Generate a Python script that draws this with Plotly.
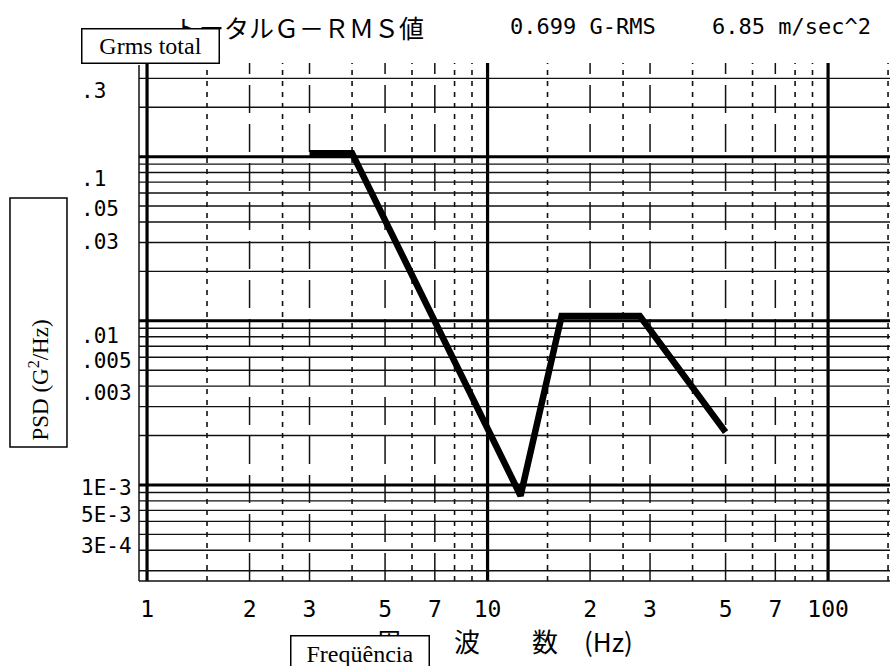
import math
import plotly.graph_objects as go

# ---- data ----
freq_hz = [3, 4, 12.5, 16.5, 28, 50]
psd_g2hz = [0.105, 0.105, 0.00086, 0.0107, 0.0107, 0.0021]

x_tick_vals = [1, 2, 3, 5, 7, 10, 20, 30, 50, 70, 100]
x_tick_text = ["1", "2", "3", "5", "7", "10", "2", "3", "5", "7", "100"]

y_label_vals = [0.3, 0.1, 0.05, 0.03, 0.01, 0.005, 0.003, 0.001, 0.0005, 0.0003]
y_label_text = [".3", ".1", ".05", ".03", ".01", ".005", ".003", "1E-3", "5E-3", "3E-4"]
# the scanned original has its labels slightly off the grid lines (pixel offsets)
y_label_shift = [-13, -22, -3, 0, -15, 9, 14, -3, 19, 25]

# grid lines
x_decade_lines = [1, 10, 100]
x_long_dash = [2, 3, 5, 7, 20, 30, 50, 70]
x_short_dash = [1.5, 2.5, 4, 6, 8, 9, 15, 25, 40, 60, 80, 90, 150]
y_decade_lines = [0.1, 0.01, 0.001]
y_thin_lines = [0.3, 0.2, 0.09, 0.08, 0.07, 0.06, 0.05, 0.04, 0.03, 0.02,
                0.009, 0.008, 0.007, 0.006, 0.005, 0.004, 0.003, 0.002,
                0.0009, 0.0008, 0.0007, 0.0006, 0.0005, 0.0004, 0.0003]

x_min, x_max = 0.947, 152
y_min, y_max = 2.6e-4, 0.372

title_jp = "トータルＧ－ＲＭＳ値"
grms_text = "0.699 G-RMS"
accel_text = "6.85 m/sec^2"
x_title_jp = "周　　波　　数　(Hz)"

INK = "#111111"
MONO = "DejaVu Sans Mono, monospace"
JP = "Noto Sans CJK JP"
SERIF = "Liberation Serif, Times New Roman, serif"

fig = go.Figure()
fig.add_trace(go.Scatter(x=freq_hz, y=psd_g2hz, mode="lines",
                         line=dict(color="black", width=6.5),
                         showlegend=False, hoverinfo="skip"))

shapes = []
for v in x_decade_lines:
    shapes.append(dict(type="line", xref="x", yref="paper", x0=v, x1=v, y0=0, y1=1,
                       line=dict(color="black", width=3.2), layer="below"))
for v in x_long_dash:
    shapes.append(dict(type="line", xref="x", yref="paper", x0=v, x1=v, y0=0, y1=1,
                       line=dict(color=INK, width=1.5, dash="28px,11px"), layer="below"))
for v in x_short_dash:
    shapes.append(dict(type="line", xref="x", yref="paper", x0=v, x1=v, y0=0, y1=1,
                       line=dict(color=INK, width=1.6, dash="5px,6px"), layer="below"))
for v in y_decade_lines:
    shapes.append(dict(type="line", xref="paper", yref="y", x0=0, x1=1, y0=v, y1=v,
                       line=dict(color="black", width=3), layer="below"))
for v in y_thin_lines:
    shapes.append(dict(type="line", xref="paper", yref="y", x0=0, x1=1, y0=v, y1=v,
                       line=dict(color=INK, width=1.4), layer="below"))
# frame: left border and bottom border
shapes.append(dict(type="line", xref="paper", yref="paper", x0=0, x1=0, y0=0, y1=0.996,
                   line=dict(color=INK, width=1.5), layer="below"))
shapes.append(dict(type="line", xref="paper", yref="paper", x0=0, x1=1, y0=0, y1=0,
                   line=dict(color=INK, width=1.5), layer="below"))
# PSD label box
shapes.append(dict(type="rect", xref="paper", yref="paper", x0=-0.1718, x1=-0.0959,
                   y0=0.2587, y1=0.7394, line=dict(color="black", width=1.5),
                   fillcolor="white", layer="above"))

annotations = []
# title line
annotations.append(dict(text=title_jp, xref="paper", yref="paper", x=0.0439, y=1.0695,
                        xanchor="left", yanchor="middle", showarrow=False,
                        font=dict(family=JP, size=25, color="black")))
annotations.append(dict(text=grms_text, xref="paper", yref="paper", x=0.4913, y=1.0695,
                        xanchor="left", yanchor="middle", showarrow=False,
                        font=dict(family=MONO, size=22, color="black")))
annotations.append(dict(text=accel_text, xref="paper", yref="paper", x=0.7603, y=1.0695,
                        xanchor="left", yanchor="middle", showarrow=False,
                        font=dict(family=MONO, size=22, color="black")))
# y tick labels (left aligned like the original)
for v, t, s in zip(y_label_vals, y_label_text, y_label_shift):
    annotations.append(dict(text=t, xref="paper", yref="y", x=-0.0800, y=math.log10(v),
                            xanchor="left", yanchor="middle", yshift=s, showarrow=False,
                            font=dict(family=MONO, size=21, color="black")))
# x axis title (Japanese)
annotations.append(dict(text=x_title_jp, xref="paper", yref="paper", x=0.3129, y=-0.1139,
                        xanchor="left", yanchor="middle", showarrow=False,
                        font=dict(family=JP, size=26, color="black")))
# overlay boxes
annotations.append(dict(text="Grms total", xref="paper", yref="paper", x=0.01465, y=1.0319,
                        xanchor="center", yanchor="middle", showarrow=False,
                        width=136, height=33, borderpad=0, borderwidth=1.5,
                        bordercolor="black", bgcolor="white",
                        font=dict(family=SERIF, size=24, color="black")))
annotations.append(dict(text="Freqüência", xref="paper", yref="paper", x=0.2949, y=-0.1390,
                        xanchor="center", yanchor="middle", showarrow=False,
                        width=137, height=34, borderpad=0, borderwidth=1.5,
                        bordercolor="black", bgcolor="white",
                        font=dict(family=SERIF, size=24, color="black")))
annotations.append(dict(text="PSD (G<sup>2</sup>/Hz)", xref="paper", yref="paper",
                        x=-0.1338, y=0.388, xanchor="center", yanchor="middle",
                        textangle=-90, showarrow=False,
                        font=dict(family=SERIF, size=23, color="black")))

fig.update_layout(
    width=890, height=666,
    margin=dict(l=139, r=0, t=63, b=85),
    paper_bgcolor="white", plot_bgcolor="white",
    shapes=shapes, annotations=annotations,
    xaxis=dict(type="log", range=[math.log10(x_min), math.log10(x_max)],
               showgrid=False, zeroline=False, showline=False,
               tickmode="array", tickvals=x_tick_vals, ticktext=x_tick_text,
               ticks="", ticklabelstandoff=12,
               tickfont=dict(family=MONO, size=23, color="black")),
    yaxis=dict(type="log", range=[math.log10(y_min), math.log10(y_max)],
               showgrid=False, zeroline=False, showline=False,
               showticklabels=False, ticks=""),
)

fig.write_html("out.html")
